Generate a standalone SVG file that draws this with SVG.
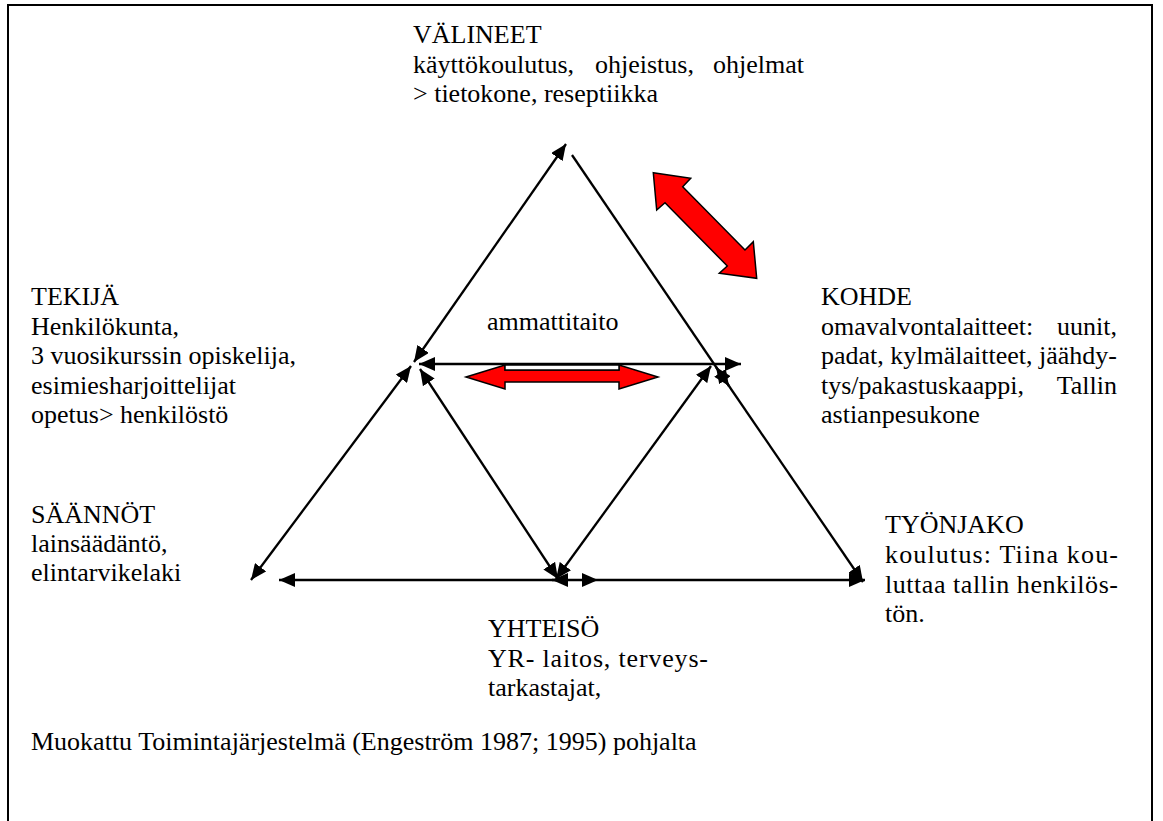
<svg xmlns="http://www.w3.org/2000/svg" width="1163" height="821" viewBox="0 0 1163 821">
<style>
text{font-family:"Liberation Serif","DejaVu Serif","Noto Serif",serif;font-size:26px;fill:#000}
.ln{stroke:#000;stroke-width:2.3;fill:none}
.red{fill:#ff0000;stroke:#000;stroke-width:1.5;stroke-linejoin:miter}
</style>
<defs>
<marker id="ah" viewBox="0 0 16 14" refX="16" refY="7" markerWidth="16" markerHeight="14" markerUnits="userSpaceOnUse" orient="auto-start-reverse">
<path d="M0,0 L16,7 L0,14 z" fill="#000"/>
</marker>
</defs>
<rect x="0" y="0" width="1163" height="821" fill="#fff"/>
<rect id="frame" x="8" y="5" width="1144" height="830" fill="none" stroke="#000" stroke-width="2"/>

<g id="connectors">
<line class="ln" x1="414" y1="362" x2="566" y2="144" marker-start="url(#ah)" marker-end="url(#ah)"/>
<line class="ln" x1="572" y1="155" x2="729" y2="386" marker-end="url(#ah)"/>
<line class="ln" x1="716" y1="367" x2="863" y2="582" marker-start="url(#ah)" marker-end="url(#ah)"/>
<line class="ln" x1="251" y1="580" x2="411" y2="366" marker-start="url(#ah)" marker-end="url(#ah)"/>
<line class="ln" x1="419" y1="364" x2="741" y2="364" marker-start="url(#ah)" marker-end="url(#ah)"/>
<line class="ln" x1="558" y1="579" x2="420" y2="369" marker-start="url(#ah)" marker-end="url(#ah)"/>
<line class="ln" x1="556" y1="579" x2="711" y2="366" marker-start="url(#ah)" marker-end="url(#ah)"/>
<line class="ln" x1="566" y1="580" x2="279" y2="580" marker-end="url(#ah)"/>
<line class="ln" x1="552" y1="580" x2="598" y2="580" marker-start="url(#ah)" marker-end="url(#ah)"/>
<line class="ln" x1="598" y1="580" x2="865" y2="580" marker-end="url(#ah)"/>
<polygon class="red" points="653.3,172.7 690.7,178.3 682.7,186.7 745,250 753.3,241.7 756.7,278.3 719.3,273.3 727.3,266 665,202.7 656.7,210"/>
<polygon class="red" points="466,377 505,365 505,370 619,370 619,365 658,377 619,389 619,382 505,382 505,389"/>
<rect x="505" y="365" width="114" height="5" fill="#fff" stroke="#000" stroke-width="1.5"/>
</g>

<g id="valineet">
<text x="413" y="43">VÄLINEET</text>
<text x="413" y="72.5">käyttökoulutus,</text>
<text x="595" y="72.5">ohjeistus,</text>
<text x="713" y="72.5">ohjelmat</text>
<text x="413" y="102">&gt; tietokone, reseptiikka</text>
</g>

<g id="tekija">
<text x="31" y="305">TEKIJÄ</text>
<text x="31" y="334.5">Henkilökunta,</text>
<text x="31" y="364">3 vuosikurssin opiskelija,</text>
<text x="31" y="393.5">esimiesharjoittelijat</text>
<text x="31" y="423">opetus&gt; henkilöstö</text>
</g>

<g id="kohde">
<text x="821" y="305">KOHDE</text>
<text x="821" y="334.5">omavalvontalaitteet:</text>
<text x="1117" y="334.5" text-anchor="end">uunit,</text>
<text x="821" y="364">padat, kylmälaitteet, jäähdy-</text>
<text x="821" y="393.5">tys/pakastuskaappi,</text>
<text x="1117" y="393.5" text-anchor="end">Tallin</text>
<text x="821" y="423">astianpesukone</text>
</g>

<g id="ammattitaito">
<text x="487" y="330">ammattitaito</text>
</g>

<g id="saannot">
<text x="31" y="523">SÄÄNNÖT</text>
<text x="31" y="552">lainsäädäntö,</text>
<text x="31" y="581">elintarvikelaki</text>
</g>

<g id="tyonjako">
<text x="885" y="533">TYÖNJAKO</text>
<text x="885" y="563" textLength="233" lengthAdjust="spacing">koulutus: Tiina kou-</text>
<text x="885" y="592.5" textLength="233" lengthAdjust="spacing">luttaa tallin henkilös-</text>
<text x="885" y="622">tön.</text>
</g>

<g id="yhteiso">
<text x="488" y="637">YHTEISÖ</text>
<text x="488" y="666.5" textLength="220" lengthAdjust="spacing">YR- laitos, terveys-</text>
<text x="488" y="696">tarkastajat,</text>
</g>

<g id="footer">
<text x="31" y="750">Muokattu Toimintajärjestelmä (Engeström 1987; 1995) pohjalta</text>
</g>
</svg>
